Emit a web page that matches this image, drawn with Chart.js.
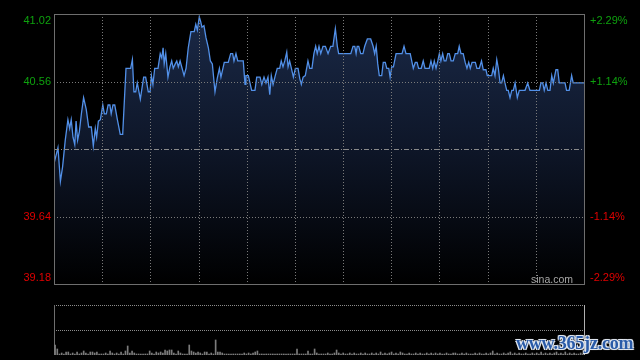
<!DOCTYPE html>
<html><head><meta charset="utf-8">
<script src="https://cdn.jsdelivr.net/npm/chart.js@4"></script>
<style>
html,body{margin:0;padding:0;background:#000;width:640px;height:360px;overflow:hidden;}
canvas{position:absolute;left:0;display:block;}
#main{top:0;}
#vol{top:290px;}
#wm{position:absolute;left:516px;top:333px;font:bold 18px "Liberation Serif",serif;color:#2a5ba8;letter-spacing:-0.2px;
text-shadow:-1px -1px 0 #dfe6f0,1px -1px 0 #dfe6f0,-1px 1px 0 #dfe6f0,1px 1px 0 #dfe6f0,0 0 2px #fff;white-space:nowrap;}
</style></head>
<body>
<canvas id="main" width="640" height="300"></canvas>
<canvas id="vol" width="640" height="70"></canvas>
<div id="wm">www.365jz.com</div>
<script>
// ---- data ----
const prevClose = 40.10;
const priceMin = 39.18, priceMax = 41.02;
const priceTicks = [41.02, 40.56, 39.64, 39.18];
const priceTickLabels = ['41.02', '40.56', '39.64', '39.18'];
const pctTickLabels = ['+2.29%', '+1.14%', '-1.14%', '-2.29%'];
const times = [
0,1.8,2.9,3.9,5.1,6.3,7.1,7.8,8.6,9.4,
10.0,10.7,11.5,12.4,13.4,14.6,15.7,16.9,17.8,18.7,
19.3,20.1,21.0,22.1,22.8,23.7,24.5,25.3,25.9,26.7,
27.5,28.7,30.0,31.1,32.6,33.8,34.7,35.5,36.2,37.0,
37.7,39.1,40.6,41.5,42.7,43.5,44.1,44.8,45.6,47.1,
48.1,48.8,49.4,49.9,50.6,51.6,52.5,53.3,54.0,54.9,
55.6,56.3,57.1,58.0,58.9,59.8,60.8,62.0,63.5,64.2,
64.9,65.8,66.4,67.0,67.9,68.8,69.9,70.8,71.7,72.9,
73.9,74.9,75.6,77.1,78.9,80.0,80.9,81.5,82.4,83.2,
85.7,86.5,86.9,88.0,89.5,91.0,91.8,93.3,94.1,95.1,
96.0,96.9,97.7,98.4,99.2,100.2,101.1,102.2,102.9,103.7,
104.5,105.4,106.0,106.7,107.5,108.4,109.3,110.5,111.3,112.0,
112.8,113.8,115.0,115.8,116.8,117.7,118.5,119.2,120.0,120.8,
121.8,122.9,124.1,125.3,126.3,127.4,128.3,128.9,134.4,135.4,
136.2,136.8,137.3,138.0,138.9,139.9,140.7,141.9,143.4,144.5,
145.2,145.9,146.6,147.3,148.4,149.1,150.0,150.7,151.6,152.2,
152.9,153.7,154.9,157.6,158.5,159.4,161.3,162.7,163.6,164.4,
165.1,166.3,167.2,168.0,169.9,170.7,171.5,172.2,173.0,173.8,
174.5,175.2,176.0,176.7,177.5,178.3,179.0,179.8,180.8,181.7,
182.8,183.5,184.3,185.3,186.2,187.0,187.8,188.5,189.3,190.8,
191.5,192.6,193.6,194.4,195.6,196.2,198.2,198.9,199.7,200.5,
201.2,202.0,202.7,203.5,204.2,205.0,205.7,206.5,207.3,208.0,
208.8,209.8,210.7,213.3,214.5,215.5,219.8,220.5,221.3,222.0,
222.8,223.6,224.6,225.4,226.1,227.3,228.1,228.8,231.4,232.1,
233.3,234.4,235.1,240];
const prices = [
40.00,40.11,39.88,39.98,40.16,40.30,40.24,40.30,40.18,40.13,
40.29,40.16,40.22,40.34,40.45,40.37,40.25,40.25,40.12,40.24,
40.18,40.29,40.30,40.40,40.34,40.34,40.40,40.40,40.34,40.40,
40.40,40.30,40.20,40.20,40.65,40.65,40.65,40.71,40.49,40.49,
40.55,40.44,40.59,40.59,40.49,40.49,40.60,40.54,40.65,40.65,
40.75,40.72,40.79,40.68,40.75,40.59,40.66,40.70,40.65,40.68,
40.70,40.66,40.70,40.65,40.60,40.65,40.79,40.90,40.90,40.95,
40.91,41.00,40.97,40.93,40.94,40.86,40.79,40.70,40.68,40.49,
40.58,40.65,40.59,40.69,40.69,40.75,40.75,40.70,40.75,40.70,
40.70,40.54,40.60,40.60,40.50,40.50,40.59,40.59,40.54,40.59,
40.55,40.59,40.47,40.60,40.54,40.60,40.65,40.65,40.70,40.66,
40.70,40.76,40.66,40.70,40.65,40.59,40.65,40.65,40.58,40.54,
40.59,40.60,40.70,40.65,40.65,40.75,40.80,40.75,40.80,40.75,
40.80,40.80,40.75,40.80,40.80,40.92,40.80,40.75,40.75,40.80,
40.80,40.75,40.80,40.80,40.75,40.75,40.80,40.85,40.85,40.80,
40.75,40.80,40.68,40.60,40.60,40.69,40.69,40.65,40.65,40.59,
40.66,40.66,40.75,40.75,40.80,40.75,40.75,40.65,40.69,40.69,
40.65,40.65,40.70,40.65,40.65,40.70,40.65,40.70,40.65,40.70,
40.75,40.70,40.75,40.70,40.70,40.75,40.75,40.70,40.70,40.75,
40.75,40.80,40.75,40.75,40.69,40.65,40.69,40.65,40.69,40.69,
40.65,40.65,40.70,40.64,40.64,40.60,40.60,40.65,40.60,40.71,
40.65,40.55,40.55,40.60,40.55,40.50,40.50,40.45,40.50,40.50,
40.55,40.45,40.50,40.50,40.55,40.50,40.50,40.55,40.55,40.50,
40.55,40.50,40.50,40.60,40.55,40.64,40.64,40.55,40.55,40.50,
40.50,40.60,40.55,40.55];
const volumes = [
10,6,1,2,1,3,3,1,2,1,
3,1,2,4,2,1,3,3,2,3,
1,1,1,2,1,4,2,1,2,1,
3,1,4,9,2,4,2,1,1,1,
1,1,1,4,2,1,3,2,3,2,
5,4,5,5,2,1,4,2,1,1,
1,10,4,3,2,3,2,1,3,3,
1,2,1,15,3,3,2,1,1,1,
1,1,1,1,1,1,2,1,2,1,
2,3,4,1,1,1,1,1,1,1,
1,1,1,1,1,1,1,1,1,1,
6,1,1,1,1,4,1,1,6,2,
1,1,1,1,2,1,1,2,5,2,
1,2,1,1,2,1,2,1,1,2,
1,2,1,1,2,1,2,1,3,1,
2,1,2,3,1,2,1,3,2,1,
1,2,1,1,2,1,2,1,1,2,
1,2,1,2,1,2,1,1,2,1,
1,2,2,1,1,2,1,2,1,1,
1,2,1,2,1,1,2,1,2,4,
1,2,1,1,2,1,2,3,1,2,
1,2,1,1,2,1,1,2,1,2,
1,3,1,2,1,2,1,2,3,1,
2,1,3,1,2,1,2,1,1,2,
1];
const sessionMinutes = 240;
const xDivisions = 11;
const volMax = 50;

// ---- styles ----
const GREEN = '#0ea10e', RED = '#e00000';
const FONT = '11px "Liberation Sans", Arial, sans-serif';

function crisp(v){ return Math.round(v) + 0.5; }

const mainPlugin = {
  id: 'sinaFrame',
  afterDatasetsDraw(chart){
    const {ctx, chartArea:a, scales:{x, y}} = chart;
    ctx.save();
    ctx.lineWidth = 1;
    ctx.strokeStyle = '#7a7a7a';
    ctx.setLineDash([1, 2]);
    for (let i = 1; i < xDivisions; i++){
      const px = crisp(x.getPixelForValue(i * sessionMinutes / xDivisions));
      ctx.beginPath(); ctx.moveTo(px, a.top); ctx.lineTo(px, a.bottom); ctx.stroke();
    }
    [priceTicks[1], priceTicks[2]].forEach(v => {
      const py = crisp(y.getPixelForValue(v));
      ctx.beginPath(); ctx.moveTo(a.left, py); ctx.lineTo(a.right, py); ctx.stroke();
    });
    ctx.strokeStyle = '#8a8a8a';
    ctx.setLineDash([5, 2, 1, 2]);
    const py = crisp(y.getPixelForValue(prevClose));
    ctx.beginPath(); ctx.moveTo(a.left, py); ctx.lineTo(a.right, py); ctx.stroke();
    ctx.setLineDash([]);
    ctx.strokeStyle = '#6e6e6e';
    ctx.strokeRect(crisp(a.left), crisp(a.top), Math.round(a.right - a.left), Math.round(a.bottom - a.top));
    ctx.font = FONT;
    ctx.textBaseline = 'middle';
    priceTicks.forEach((v, i) => {
      let ty = y.getPixelForValue(v);
      if (i === 0) ty += 6.5;
      if (i === priceTicks.length - 1) ty -= 6;
      ctx.fillStyle = v > prevClose ? GREEN : RED;
      ctx.textAlign = 'right';
      ctx.fillText(priceTickLabels[i], a.left - 3, ty);
      ctx.textAlign = 'left';
      ctx.fillText(pctTickLabels[i], a.right + 6, ty);
    });
    ctx.fillStyle = '#a8a8a8';
    ctx.font = '10.5px "Liberation Sans", Arial, sans-serif';
    ctx.textAlign = 'right';
    ctx.textBaseline = 'alphabetic';
    ctx.fillText('sina.com', a.right - 11, a.bottom - 1);
    ctx.restore();
  }
};

new Chart(document.getElementById('main'), {
  type: 'line',
  data: {
    datasets: [{
      data: times.map((t, i) => ({x: t, y: prices[i]})),
      borderColor: '#5290e8',
      borderWidth: 1.3,
      pointRadius: 0,
      tension: 0,
      fill: 'start',
      backgroundColor: (c) => {
        const a = c.chart.chartArea;
        if (!a) return 'rgba(0,0,0,0)';
        const g = c.chart.ctx.createLinearGradient(0, a.top, 0, a.bottom);
        g.addColorStop(0, '#1a2947');
        g.addColorStop(0.5, '#0e1628');
        g.addColorStop(1, '#000000');
        return g;
      }
    }]
  },
  options: {
    responsive: false,
    animation: false,
    events: [],
    layout: {padding: {left: 54, right: 56, top: 14, bottom: 16}},
    plugins: {legend: {display: false}, tooltip: {enabled: false}},
    scales: {
      x: {type: 'linear', display: false, min: 0, max: sessionMinutes},
      y: {display: false, min: priceMin, max: priceMax}
    }
  },
  plugins: [mainPlugin]
});

const volPlugin = {
  id: 'volFrame',
  beforeDatasetsDraw(chart){
    const {ctx, chartArea:a, scales:{y}} = chart;
    ctx.save();
    ctx.lineWidth = 1;
    ctx.strokeStyle = '#8c8c8c';
    ctx.setLineDash([1, 1]);
    [volMax, volMax / 2].forEach(v => {
      const py = crisp(y.getPixelForValue(v));
      ctx.beginPath(); ctx.moveTo(a.left, py); ctx.lineTo(a.right, py); ctx.stroke();
    });
    ctx.setLineDash([]);
    ctx.strokeStyle = '#6e6e6e';
    ctx.beginPath(); ctx.moveTo(crisp(a.left), a.top); ctx.lineTo(crisp(a.left), a.bottom); ctx.stroke();
    ctx.strokeStyle = '#b0b0b0';
    ctx.beginPath(); ctx.moveTo(crisp(a.right), a.top); ctx.lineTo(crisp(a.right), a.bottom); ctx.stroke();
    ctx.restore();
  }
};

new Chart(document.getElementById('vol'), {
  type: 'bar',
  data: {
    labels: volumes.map((v, i) => i),
    datasets: [{data: volumes, backgroundColor: '#7c7c7c', barThickness: 1, borderWidth: 0}]
  },
  options: {
    responsive: false,
    animation: false,
    events: [],
    layout: {padding: {left: 54, right: 56, top: 15, bottom: 5}},
    plugins: {legend: {display: false}, tooltip: {enabled: false}},
    scales: {
      x: {display: false, offset: true},
      y: {display: false, min: 0, max: volMax}
    }
  },
  plugins: [volPlugin]
});
</script>
</body></html>
